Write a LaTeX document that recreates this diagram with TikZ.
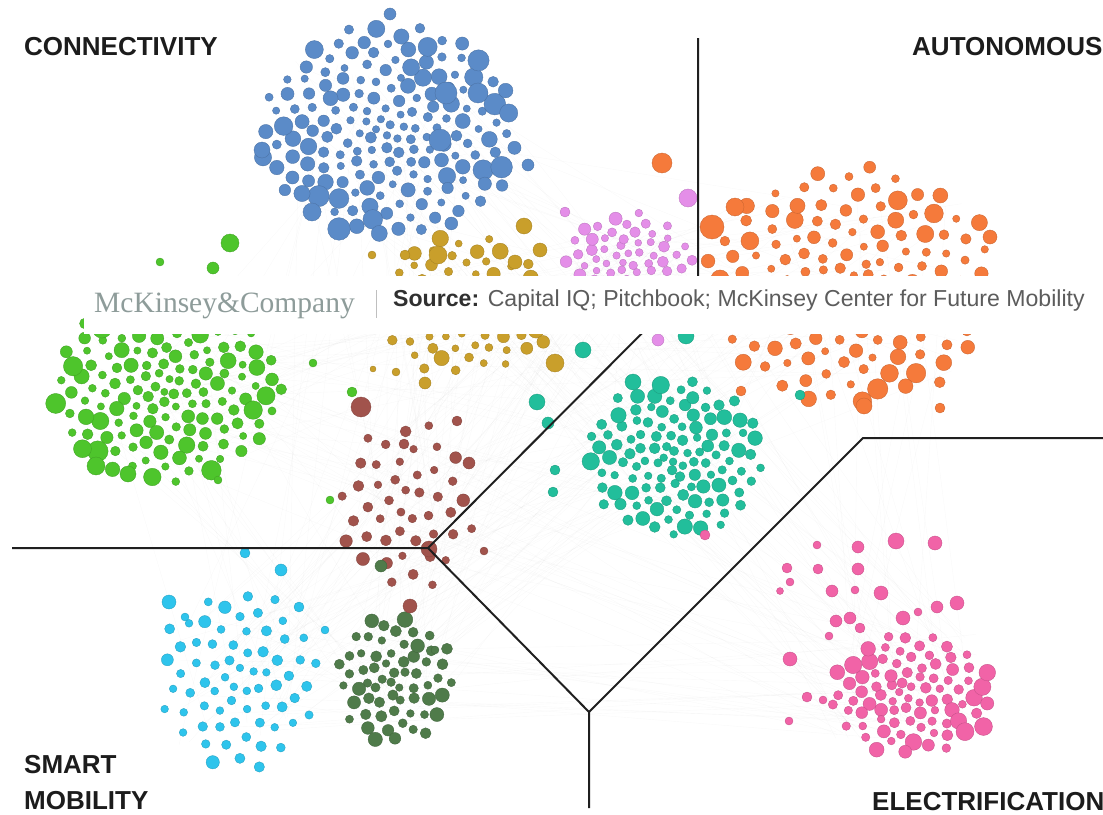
\documentclass[tikz,border=0pt]{standalone}
\usepackage{fontspec}
\setmainfont{Liberation Sans}
\newfontfamily\serifmk{Liberation Serif}
\definecolor{cblue}{HTML}{5B8BC8}
\definecolor{cgreen}{HTML}{4EC52C}
\definecolor{cgold}{HTML}{C99F2B}
\definecolor{cviolet}{HTML}{E48EE8}
\definecolor{corange}{HTML}{F57A3B}
\definecolor{cteal}{HTML}{22BE9B}
\definecolor{cbrown}{HTML}{A1534C}
\definecolor{ccyan}{HTML}{2EC4EC}
\definecolor{cdkgreen}{HTML}{4F7B4A}
\definecolor{cpink}{HTML}{F163A7}
\definecolor{mkgray}{HTML}{8E9C9A}
\definecolor{srcgray}{HTML}{5C5C5C}
\definecolor{srcdark}{HTML}{303030}
\definecolor{labelblack}{HTML}{1C1C1C}
\tikzset{
  dotst/.style={fill=#1, draw=#1!82!black, line width=0.35pt},
  edgest/.style={draw=black, opacity=0.025, line width=0.4pt},
  divider/.style={draw=black!88, line width=2pt},
  lab/.style={font=\fontsize{26}{30}\selectfont\bfseries, text=labelblack, inner sep=0pt},
}
\newcommand\dotcluster[9]{%
  \pgfmathsetseed{#7}%
  \foreach \k in {1,...,#6}{%
    \pgfmathsetmacro\dcT{pow(\k/#6,0.6)}%
    \pgfmathsetmacro\dcF{\k*0.381966}%
    \pgfmathsetmacro\dcA{360*(\dcF-floor(\dcF))}%
    \pgfmathsetmacro\dcX{#2+#4*\dcT*cos(\dcA)+2*rand}%
    \pgfmathsetmacro\dcY{#3+#5*\dcT*sin(\dcA)+2*rand}%
    \pgfmathsetmacro\dcU{rnd}%
    \pgfmathsetmacro\dcR{#8+(#9-#8)*(0.12+0.88*\dcT)*pow(\dcU,1.6)}%
    \fill[dotst=#1] (\dcX,\dcY) circle[radius=\dcR pt];
  }}
\newcommand\dotlist[2]{%
  \foreach \dx/\dy/\dr in {#2}{\fill[dotst=#1] (\dx,\dy) circle[radius=\dr pt];}}
\begin{document}
\begin{tikzpicture}[x=1pt,y=-1pt]
\useasboundingbox (0,0) rectangle (1103,814);
\clip (0,0) rectangle (1103,814);
\fill[white] (0,0) rectangle (1103,814);
% faint background edges
\def\cxs{{390,168,465,628,852,670,405,238,395,905}}
\def\cys{{130,385,305,258,285,455,505,680,680,685}}
\def\cas{{120,110,90,60,140,90,65,75,55,90}}
\def\cbs{{100,90,65,40,110,75,75,85,60,70}}
\pgfmathsetseed{5}
\foreach \i in {1,...,420}{
  \pgfmathtruncatemacro\ia{random(0,9)}
  \pgfmathtruncatemacro\ib{random(0,9)}
  \pgfmathsetmacro\xa{\cxs[\ia]+\cas[\ia]*0.8*rand}
  \pgfmathsetmacro\ya{\cys[\ia]+\cbs[\ia]*0.8*rand}
  \pgfmathsetmacro\xb{\cxs[\ib]+\cas[\ib]*0.8*rand}
  \pgfmathsetmacro\yb{\cys[\ib]+\cbs[\ib]*0.8*rand}
  \draw[edgest] (\xa,\ya) -- (\xb,\yb);
}
% clusters
\dotcluster{cblue}{390}{132}{130}{108}{175}{11}{3.6}{12}
\dotcluster{cgreen}{168}{388}{115}{95}{145}{22}{3.6}{11}
\dotcluster{cgold}{465}{305}{92}{70}{85}{33}{3.4}{9}
\dotcluster{cviolet}{628}{258}{66}{44}{58}{44}{3.4}{7}
\dotcluster{corange}{852}{285}{148}{120}{150}{55}{3.6}{11}
\dotcluster{cteal}{675}{458}{88}{80}{115}{66}{3.8}{9}
\dotcluster{cbrown}{405}{505}{70}{85}{45}{77}{3.8}{7}
\dotcluster{ccyan}{238}{680}{80}{92}{68}{88}{3.8}{7}
\dotcluster{cdkgreen}{395}{680}{60}{65}{62}{99}{3.8}{8.5}
\dotcluster{cpink}{912}{694}{82}{62}{85}{111}{3.8}{10}
% outliers
\dotlist{cblue}{390/14/6, 446/93/11, 478/93/10, 440/140/11, 312/212/9, 528/165/6, 262/150/8}
\dotlist{corange}{662/163/10, 712/227/12, 735/207/9, 990/237/7, 864/406/8, 940/408/5, 741/391/5}
\dotlist{cviolet}{688/198/9, 658/340/6, 565/212/5}
\dotlist{cteal}{583/350/8, 548/423/6, 537/402/8, 555/470/5, 553/492/5, 800/395/5, 633/382/8, 686/336/8}
\dotlist{cgreen}{230/243/9, 213/268/6, 160/262/4, 330/500/4, 352/392/5, 313/363/4, 218/480/4, 96/466/9, 128/474/8}
\dotlist{cbrown}{361/407/10, 410/606/7, 404/444/5, 457/421/5, 469/463/6, 484/551/4, 429/549/8}
\dotlist{ccyan}{169/602/7, 245/553/5, 281/570/6, 325/630/4, 299/607/5, 185/617/4}
\dotlist{cdkgreen}{381/566/6, 435/650/4}
\dotlist{cpink}{817/545/4, 858/547/6, 896/541/8, 935/543/7, 787/568/5, 818/569/5, 858/569/6, 790/582/4, 780/591/3.5, 832/591/6, 855/590/4, 881/593/7, 957/603/7, 937/607/6, 918/612/4, 850/618/6, 836/621/6, 903/618/7, 860/628/5, 829/636/4, 790/659/7, 807/697/5, 823/700/4, 789/721/4, 705/535/5}
\dotlist{cgold}{524/226/8, 540/250/7, 372/255/4, 405/255/5, 438/255/9, 515/262/7, 555/363/9, 425/383/6, 373/369/3, 396/372/4}
% dividers
\coordinate (vtop) at (698,38);
\coordinate (cn) at (698,277);
\coordinate (jn) at (428,548);
\coordinate (hl) at (12,548);
\coordinate (bj) at (589,712);
\coordinate (bb) at (589,808);
\coordinate (rc) at (863,438);
\coordinate (rr) at (1103,438);
\draw[divider] (vtop) -- (cn) -- (jn);
\draw[divider] (hl) -- (jn) -- (bj) -- (bb);
\draw[divider] (bj) -- (rc) -- (rr);
% banner
\fill[white] (84,276) rectangle (1103,334);
\node[anchor=base west, inner sep=0pt, text=mkgray, font=\serifmk\fontsize{29.5}{32}\selectfont] (mk) at (94,312) {McKinsey\&Company};
\coordinate (sept) at (376,290);
\coordinate (sepb) at (376,318);
\draw[black!25, line width=0.8pt] (sept) -- (sepb);
\node[anchor=base west, inner sep=0pt, text=srcgray, font=\fontsize{23.1}{26}\selectfont] (src) at (393,306) {\textcolor{srcdark}{\bfseries Source:} Capital IQ; Pitchbook; McKinsey Center for Future Mobility};
% labels
\node[lab, anchor=base west] (lconn) at (24,55) {CONNECTIVITY};
\node[lab, anchor=base west] (laut) at (912,55) {AUTONOMOUS};
\node[lab, anchor=base west] (lsm) at (24,773) {SMART};
\node[lab, anchor=base west] (lmob) at (24,809) {MOBILITY};
\node[lab, anchor=base west] (lel) at (872,810) {ELECTRIFICATION};
\end{tikzpicture}
\end{document}
